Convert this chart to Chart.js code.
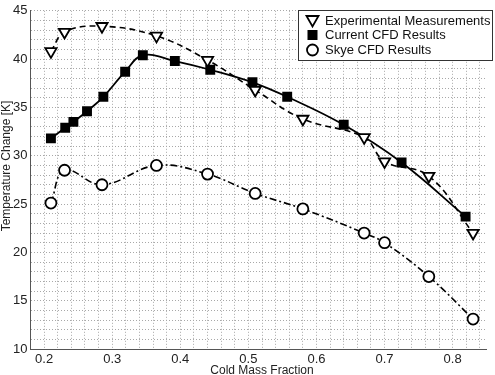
<!DOCTYPE html>
<html>
<head>
<meta charset="utf-8">
<script src="https://cdn.jsdelivr.net/npm/chart.js"></script>
<style>
  body { margin: 0; background: #fff; }
  canvas { display: block; }
</style>
</head>
<body>
<canvas id="canvas" width="495" height="375"></canvas>
<script>
// values
const massFraction = [0.21, 0.23, 0.285, 0.365, 0.44, 0.51, 0.58, 0.67, 0.70, 0.765, 0.83];
const experimental = [40.8, 42.8, 43.4, 42.4, 39.9, 36.8, 33.8, 31.9, 29.4, 27.9, 22.0];
const skyeCfd      = [25.1, 28.5, 27.0, 29.0, 28.1, 26.1, 24.5, 22.0, 21.0, 17.5, 13.1];

const currentFraction = [0.21, 0.231, 0.243, 0.263, 0.287, 0.319, 0.345, 0.392, 0.444, 0.506, 0.557, 0.64, 0.725, 0.819];
const currentCfd      = [31.8, 32.9, 33.5, 34.6, 36.1, 38.7, 40.4, 39.8, 38.9, 37.6, 36.1, 33.2, 29.3, 23.7];

const seriesNames = ['Experimental Measurements', 'Current CFD Results', 'Skye CFD Results'];

const toPoints = (xs, ys) => xs.map((x, i) => ({ x: x, y: ys[i] }));

const FONT = 'Arial, "Liberation Sans", sans-serif';

// legend inside the plot with a box, plus the axis titles
const extras = {
  id: 'extras',
  afterDraw(chart) {
    const ctx = chart.ctx;
    ctx.save();

    // legend box
    const bx = 298, by = 10, bw = 194, bh = 50;
    ctx.fillStyle = '#fff';
    ctx.fillRect(bx, by, bw, bh);
    ctx.strokeStyle = '#333';
    ctx.lineWidth = 1;
    ctx.strokeRect(bx + 0.5, by + 0.5, bw, bh);

    ctx.font = '13px ' + FONT;
    ctx.textBaseline = 'middle';
    ctx.textAlign = 'left';
    const rows = [20.5, 35, 50];
    rows.forEach((ry, i) => {
      const mx = 312.5;
      ctx.lineWidth = 1.8;
      ctx.strokeStyle = '#000';
      ctx.beginPath();
      if (i === 0) {
        ctx.moveTo(mx - 6, ry - 4.5);
        ctx.lineTo(mx + 6, ry - 4.5);
        ctx.lineTo(mx, ry + 6);
        ctx.closePath();
        ctx.fillStyle = '#fff';
        ctx.fill();
        ctx.stroke();
      } else if (i === 1) {
        ctx.fillStyle = '#000';
        ctx.fillRect(mx - 5, ry - 5, 10, 10);
      } else {
        ctx.arc(mx, ry, 5.5, 0, Math.PI * 2);
        ctx.fillStyle = '#fff';
        ctx.fill();
        ctx.stroke();
      }
      ctx.fillStyle = '#111';
      ctx.fillText(seriesNames[i], 325, ry + 0.5);
    });

    // axis titles
    ctx.fillStyle = '#222';
    ctx.font = '12px ' + FONT;
    ctx.textAlign = 'center';
    ctx.textBaseline = 'top';
    ctx.fillText('Cold Mass Fraction', 262, 365);

    ctx.translate(7, 166);
    ctx.rotate(-Math.PI / 2);
    ctx.textBaseline = 'middle';
    ctx.fillText('Temperature Change [K]', 0, 0);
    ctx.restore();
  }
};

const ctx = document.getElementById('canvas').getContext('2d');
const myChart = new Chart(ctx, {
  type: 'line',
  data: {
    datasets: [{
      label: seriesNames[2],
      data: toPoints(massFraction, skyeCfd),
      borderColor: '#000',
      borderWidth: 1.6,
      borderDash: [7, 3, 2, 3],
      tension: 0.4,
      pointStyle: 'circle',
      pointRadius: 5.5,
      pointBackgroundColor: '#fff',
      pointBorderColor: '#000',
      pointBorderWidth: 1.8
    }, {
      label: seriesNames[0],
      data: toPoints(massFraction, experimental),
      borderColor: '#000',
      borderWidth: 1.6,
      borderDash: [6, 4],
      tension: 0.4,
      pointStyle: 'triangle',
      pointRotation: 180,
      pointRadius: 6.5,
      pointBackgroundColor: '#fff',
      pointBorderColor: '#000',
      pointBorderWidth: 1.8
    }, {
      label: seriesNames[1],
      data: toPoints(currentFraction, currentCfd),
      borderColor: '#000',
      borderWidth: 1.8,
      tension: 0.4,
      pointStyle: 'rect',
      pointRadius: 7,
      pointBackgroundColor: '#000',
      pointBorderColor: '#000',
      pointBorderWidth: 0
    }]
  },
  options: {
    responsive: false,
    animation: false,
    layout: { padding: { top: 7.5, right: 0, left: 0, bottom: 0 } },
    plugins: {
      legend: { display: false },
      tooltip: { enabled: false }
    },
    scales: {
      x: {
        type: 'linear',
        min: 0.18,
        max: 0.85,
        afterFit: (s) => { s.height = 26; },
        afterBuildTicks: (s) => {
          const t = [];
          for (let k = 0; k <= 33; k++) t.push({ value: Math.round((0.18 + k * 0.02) * 100) / 100 });
          s.ticks = t;
        },
        ticks: {
          autoSkip: false,
          maxRotation: 0,
          padding: 3,
          color: '#222',
          font: { family: FONT, size: 13 },
          callback: (v) => (Math.abs(v * 10 - Math.round(v * 10)) < 1e-6 ? v.toFixed(1) : '')
        },
        grid: { color: '#a8a8a8', lineWidth: 1, drawTicks: false },
        border: { display: true, color: '#555', width: 1, dash: [1, 2] }
      },
      y: {
        min: 10,
        max: 45,
        afterFit: (s) => { s.width = 30.5; },
        ticks: {
          stepSize: 1,
          autoSkip: false,
          padding: 3,
          color: '#222',
          font: { family: FONT, size: 13 },
          callback: (v) => (v % 5 === 0 ? String(v) : '')
        },
        grid: { color: '#a8a8a8', lineWidth: 1, drawTicks: false },
        border: { display: true, color: '#555', width: 1, dash: [1, 2] }
      }
    }
  },
  plugins: [extras]
});
</script>
</body>
</html>
